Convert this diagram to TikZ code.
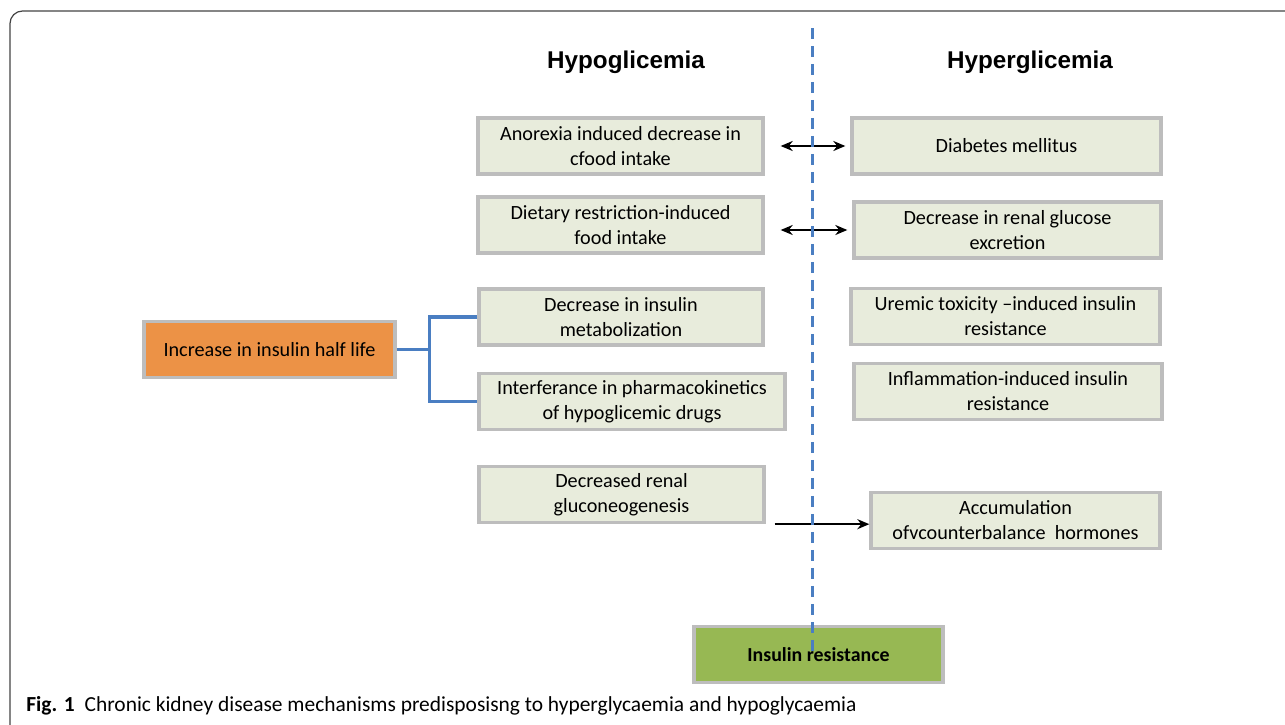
\documentclass[tikz,border=0pt]{standalone}
\usepackage{fontspec}
\setmainfont{Carlito}
\newfontfamily\headfont{Liberation Sans}
\usepackage{tikz}
\usetikzlibrary{arrows.meta}

\definecolor{boxfill}{HTML}{E8ECDC}
\definecolor{boxline}{HTML}{BDBDBD}
\definecolor{halforange}{HTML}{EC9246}
\definecolor{resgreen}{HTML}{97B853}
\definecolor{divblue}{HTML}{4A7EC2}
\definecolor{frameline}{HTML}{444444}

\begin{document}
\begin{tikzpicture}[x=0.02cm, y=-0.02cm, >={Stealth[length=0.24cm, width=0.2cm]},
    cause/.style={rectangle, draw=boxline, line width=1.9pt, fill=boxfill, minimum height=56*0.02cm, inner sep=2pt, align=center, font=\fontsize{11.5}{14.2}\selectfont},
    heading/.style={font=\headfont\bfseries\fontsize{13.8}{16}\selectfont},
    bracket/.style={draw=divblue, line width=2pt},
    twoway/.style={<->, line width=1.5pt},
    divider/.style={draw=divblue, line width=1.7pt, dash pattern=on 0.22cm off 0.14cm}]
            \useasboundingbox (0,0) rectangle (1285,724);
            \draw[frameline, line width=0.7pt, rounded corners=0.25cm] (10,11) rectangle (1310,760);
            % Titles
            \node[heading] (hypo) at (626,62) {Hypoglicemia};
            \node[heading] (hyper) at (1030,62) {Hyperglicemia};
            % Nodes
            \node[cause, minimum width=285*0.02cm] (anorexia) at (620.5,146) {Anorexia induced decrease in\\cfood intake};
            \node[cause, minimum width=285*0.02cm] (dietary) at (620.5,225) {Dietary restriction-induced\\food intake};
            \node[cause, minimum width=284*0.02cm] (metab) at (621,317) {Decrease in insulin\\metabolization};
            \node[cause, minimum width=306*0.02cm] (interf) at (632,401.5) {Interferance in pharmacokinetics\\of hypoglicemic drugs};
            \node[cause, minimum width=285*0.02cm] (gluconeo) at (621.5,494.5) {Decreased renal\\gluconeogenesis};
            \node[cause, minimum width=251*0.02cm, fill=halforange] (halflife) at (269.5,349.5) {Increase in insulin half life};
            \node[cause, minimum width=309*0.02cm] (diabetes) at (1006.5,146) {Diabetes mellitus};
            \node[cause, minimum width=307*0.02cm] (renal) at (1007.5,230) {Decrease in renal glucose\\excretion};
            \node[cause, minimum width=309*0.02cm] (uremic) at (1005.5,316.5) {Uremic toxicity --induced insulin\\resistance};
            \node[cause, minimum width=308*0.02cm] (inflam) at (1008,391.5) {Inflammation-induced insulin\\resistance};
            \node[cause, minimum width=289*0.02cm] (accum) at (1015.5,520.5) {Accumulation\\ofvcounterbalance~ hormones};
            \node[cause, minimum width=249*0.02cm, fill=resgreen, font=\bfseries\fontsize{11.3}{14}\selectfont] (insres) at (818.5,654.5) {Insulin resistance};
            % Edges
            \draw[twoway, shorten <=16*0.02cm, shorten >=5*0.02cm] (anorexia) -- (diabetes);
            \draw[twoway, shorten <=16*0.02cm, shorten >=5*0.02cm] (dietary.east |- renal.west) -- (renal.west);
            \draw[->, line width=1.5pt, shorten <=9*0.02cm] (gluconeo.south east) -- (gluconeo.south east -| accum.west);
            \draw[bracket] (halflife.east) -- ++(33,0) coordinate (fork);
            \draw[bracket] (metab.west) -| (fork) |- (interf.west);
            % Divider
            \coordinate (divtop) at (812,28);
            \coordinate (divbot) at (812,656);
            \draw[divider] (divtop) -- (divbot);
            % Caption
            \node[anchor=west, inner sep=0pt, font=\fontsize{12.2}{14}\selectfont] (caption) at (26,706) {\textbf{Fig. 1}\hspace{0.2cm}Chronic kidney disease mechanisms predisposisng to hyperglycaemia and hypoglycaemia};
        \end{tikzpicture}
\end{document}
